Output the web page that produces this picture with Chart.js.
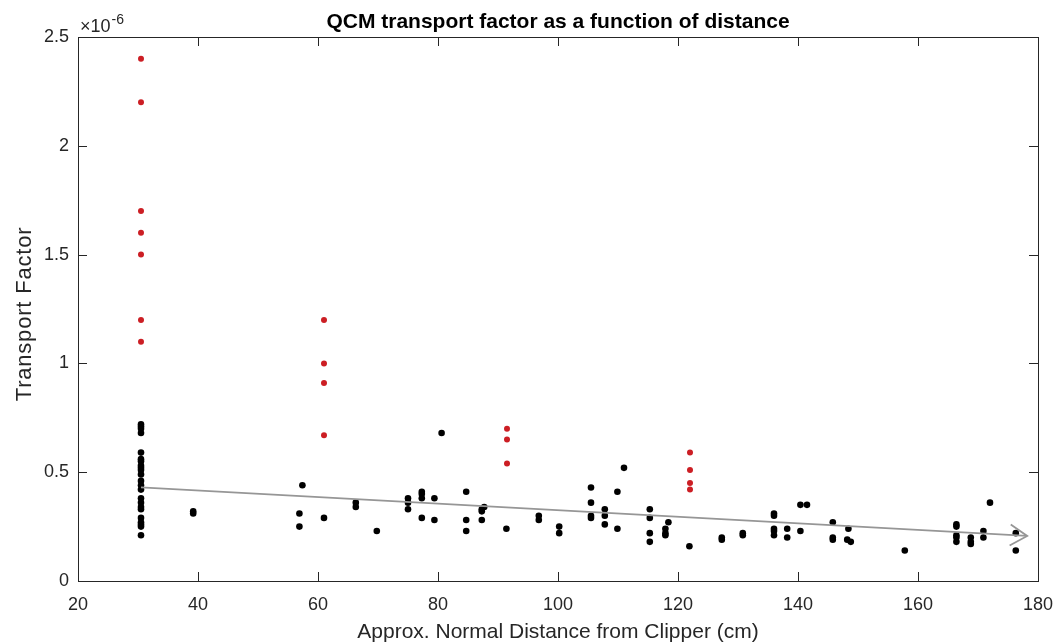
<!DOCTYPE html>
<html>
<head>
<meta charset="utf-8">
<script src="https://cdn.jsdelivr.net/npm/chart.js@4.4.1/dist/chart.umd.min.js"></script>
<style>
    body { margin: 0; background: #fff; }
    #wrap { width: 1054px; height: 643px; }
</style>
</head>
<body>
<div id="wrap"><canvas id="chart"></canvas></div>
<script>
// values are in units of 1e-6
const blackX = [
    30.5, 30.5, 30.5, 30.5, 30.5, 30.5, 30.5, 30.5, 30.5, 30.5, 30.5, 30.5, 30.5, 30.5, 30.5, 30.5, 30.5, 30.5, 30.5, 30.5, 30.5, 30.5, 30.5,
    39.2, 39.2, 56.9, 56.9, 57.4, 61, 66.3, 66.3, 69.8,
    75, 75, 75, 77.3, 77.3, 77.3, 77.3, 79.4, 79.4, 80.6,
    84.7, 84.7, 84.7, 87.3, 87.3, 87.7, 87.3, 91.4, 96.8, 96.8, 100.2, 100.2,
    105.5, 105.5, 105.5, 105.5, 107.8, 107.8, 107.8, 109.9, 109.9, 111,
    115.3, 115.3, 115.3, 115.3, 117.9, 117.9, 117.9, 118.4, 121.9,
    127.3, 127.3, 130.8, 130.8, 136, 136, 136, 136, 136, 138.2, 138.2,
    140.4, 140.4, 141.5, 145.8, 145.8, 145.8, 148.4, 148.2, 148.8, 157.8,
    166.4, 166.4, 166.4, 166.4, 166.4, 168.8, 168.8, 168.8, 170.9, 170.9, 172, 176.3, 176.3
];
const blackY = [
    0.72, 0.71, 0.70, 0.68, 0.59, 0.56, 0.55, 0.53, 0.52, 0.51, 0.49, 0.46, 0.44, 0.42, 0.38, 0.36, 0.34, 0.33, 0.29, 0.27, 0.26, 0.25, 0.21,
    0.32, 0.31, 0.31, 0.25, 0.44, 0.29, 0.36, 0.34, 0.23,
    0.38, 0.36, 0.33, 0.41, 0.40, 0.38, 0.29, 0.38, 0.28, 0.68,
    0.41, 0.28, 0.23, 0.33, 0.32, 0.34, 0.28, 0.24, 0.30, 0.28, 0.25, 0.22,
    0.43, 0.36, 0.30, 0.29, 0.33, 0.30, 0.26, 0.41, 0.24, 0.52,
    0.33, 0.29, 0.22, 0.18, 0.24, 0.22, 0.21, 0.27, 0.16,
    0.20, 0.19, 0.22, 0.21, 0.31, 0.30, 0.24, 0.23, 0.21, 0.24, 0.20,
    0.35, 0.23, 0.35, 0.27, 0.20, 0.19, 0.24, 0.19, 0.18, 0.14,
    0.26, 0.25, 0.21, 0.20, 0.18, 0.20, 0.18, 0.17, 0.23, 0.20, 0.36, 0.22, 0.14
];
const redX = [30.5, 30.5, 30.5, 30.5, 30.5, 30.5, 30.5, 61, 61, 61, 61, 91.5, 91.5, 91.5, 122, 122, 122, 122];
const redY = [2.4, 2.2, 1.7, 1.6, 1.5, 1.2, 1.1, 1.2, 1.0, 0.91, 0.67, 0.70, 0.65, 0.54, 0.59, 0.51, 0.45, 0.42];
const trendX = [30.5, 178.2];
const trendY = [0.43, 0.207];
const xTicks = [20, 40, 60, 80, 100, 120, 140, 160, 180];
const yTicks = [0, 0.5, 1, 1.5, 2, 2.5];

const AXIS_COLOR = '#262626';
const FONT = 'Liberation Sans, Arial, Helvetica, sans-serif';

function toPoints(xs, ys) {
    return xs.map((x, i) => ({x: x, y: ys[i]}));
}

// MATLAB style box, inward ticks on all four sides, arrow head, titles, exponent
const matlabAxes = {
    id: 'matlabAxes',
    afterDraw(chart) {
        const ctx = chart.ctx;
        const a = chart.chartArea;
        const xs = chart.scales.x, ys = chart.scales.y;
        const tl = 9;
        ctx.save();
        ctx.strokeStyle = AXIS_COLOR;
        ctx.lineWidth = 1;
        ctx.beginPath();
        xTicks.forEach(v => {
            const px = Math.round(xs.getPixelForValue(v)) + 0.5;
            ctx.moveTo(px, a.bottom); ctx.lineTo(px, a.bottom - tl);
            ctx.moveTo(px, a.top); ctx.lineTo(px, a.top + tl);
        });
        yTicks.forEach(v => {
            const py = Math.round(ys.getPixelForValue(v)) + 0.5;
            ctx.moveTo(a.left, py); ctx.lineTo(a.left + tl, py);
            ctx.moveTo(a.right, py); ctx.lineTo(a.right - tl, py);
        });
        ctx.stroke();
        ctx.strokeRect(Math.round(a.left) + 0.5, Math.round(a.top) + 0.5,
            Math.round(a.right - a.left), Math.round(a.bottom - a.top));

        // arrow head at the end of the trend line
        const n = trendX.length;
        const x1 = xs.getPixelForValue(trendX[n - 2]), y1 = ys.getPixelForValue(trendY[n - 2]);
        const x2 = xs.getPixelForValue(trendX[n - 1]), y2 = ys.getPixelForValue(trendY[n - 1]);
        const ang = Math.atan2(y2 - y1, x2 - x1);
        const len = 20, spread = 0.55;
        ctx.strokeStyle = 'rgb(150,150,150)';
        ctx.lineWidth = 1.8;
        ctx.beginPath();
        ctx.moveTo(x2 - len * Math.cos(ang - spread), y2 - len * Math.sin(ang - spread));
        ctx.lineTo(x2, y2);
        ctx.lineTo(x2 - len * Math.cos(ang + spread), y2 - len * Math.sin(ang + spread));
        ctx.stroke();

        // title
        ctx.fillStyle = '#000';
        ctx.font = 'bold 21px ' + FONT;
        ctx.textAlign = 'center';
        ctx.textBaseline = 'alphabetic';
        ctx.fillText('QCM transport factor as a function of distance', (a.left + a.right) / 2, 28);

        // y axis label
        ctx.save();
        ctx.fillStyle = AXIS_COLOR;
        ctx.font = '22px ' + FONT;
        ctx.letterSpacing = '0.8px';
        ctx.translate(31, (a.top + a.bottom) / 2 + 5);
        ctx.rotate(-Math.PI / 2);
        ctx.fillText('Transport Factor', 0, 0);
        ctx.restore();

        // exponent
        ctx.fillStyle = AXIS_COLOR;
        ctx.textAlign = 'left';
        ctx.font = '18px ' + FONT;
        ctx.fillText('\u00d710', a.left + 2, 32);
        const w = ctx.measureText('\u00d710').width;
        ctx.font = '14px ' + FONT;
        ctx.fillText('-6', a.left + 3 + w, 24);
        ctx.restore();
    }
};

new Chart(document.getElementById('chart'), {
    type: 'scatter',
    data: {
        datasets: [
            {
                type: 'line',
                data: toPoints(trendX, trendY),
                borderColor: 'rgb(150,150,150)',
                borderWidth: 1.8,
                pointRadius: 0,
                fill: false
            },
            {
                data: toPoints(blackX, blackY),
                backgroundColor: '#000',
                borderWidth: 0,
                pointRadius: 3.3
            },
            {
                data: toPoints(redX, redY),
                backgroundColor: '#cc1e24',
                borderWidth: 0,
                pointRadius: 3
            }
        ]
    },
    options: {
        responsive: true,
        maintainAspectRatio: false,
        animation: false,
        layout: { padding: { top: 37, right: 16, left: 0, bottom: 0 } },
        plugins: {
            legend: { display: false },
            tooltip: { enabled: false },
            title: { display: false }
        },
        scales: {
            x: {
                type: 'linear',
                min: 20,
                max: 180,
                afterFit: s => { s.height = 62; s.paddingLeft = 0; s.paddingRight = 0; },
                afterBuildTicks: s => { s.ticks = xTicks.map(v => ({value: v})); },
                grid: { display: false, drawTicks: false },
                border: { display: false },
                ticks: { color: AXIS_COLOR, padding: 13, maxRotation: 0, font: { family: FONT, size: 18 } },
                title: {
                    display: true,
                    text: 'Approx. Normal Distance from Clipper (cm)',
                    color: AXIS_COLOR,
                    padding: 0,
                    font: { family: FONT, size: 21, lineHeight: 1 }
                }
            },
            y: {
                type: 'linear',
                min: 0,
                max: 2.5,
                afterFit: s => { s.width = 78; s.paddingTop = 0; s.paddingBottom = 0; },
                afterBuildTicks: s => { s.ticks = yTicks.map(v => ({value: v})); },
                grid: { display: false, drawTicks: false },
                border: { display: false },
                ticks: {
                    color: AXIS_COLOR,
                    padding: 9,
                    font: { family: FONT, size: 18 },
                    callback: v => String(v)
                }
            }
        }
    },
    plugins: [matlabAxes]
});
</script>
</body>
</html>
